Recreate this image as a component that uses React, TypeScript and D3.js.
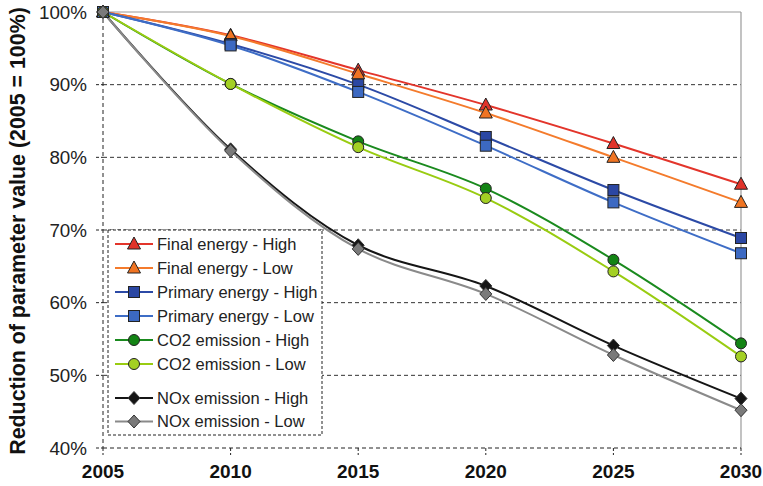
import * as d3 from 'd3';

const years = [2005, 2010, 2015, 2020, 2025, 2030];
const yTicks = [40, 50, 60, 70, 80, 90, 100];

const finalHigh = [100, 96.8, 92.0, 87.2, 81.9, 76.3];
const finalLow = [100, 96.7, 91.5, 86.1, 80.0, 73.8];
const primaryHigh = [100, 95.6, 90.0, 82.8, 75.5, 68.9];
const primaryLow = [100, 95.4, 89.0, 81.6, 73.8, 66.8];
const co2High = [100, 90.1, 82.2, 75.7, 65.9, 54.4];
const co2Low = [100, 90.1, 81.4, 74.4, 64.3, 52.6];
const noxHigh = [100, 81.1, 67.9, 62.3, 54.1, 46.8];
const noxLow = [100, 80.9, 67.4, 61.2, 52.8, 45.2];

type Marker = 'triangle' | 'square' | 'circle' | 'diamond';

interface Series {
  name: string;
  values: number[];
  line: string;
  fill: string;
  marker: Marker;
}

const series: Series[] = [
  { name: 'Final energy - High', values: finalHigh, line: '#e3352b', fill: '#e0332a', marker: 'triangle' },
  { name: 'Final energy - Low', values: finalLow, line: '#f47b2c', fill: '#f07422', marker: 'triangle' },
  { name: 'Primary energy - High', values: primaryHigh, line: '#2c4aa6', fill: '#2b47a3', marker: 'square' },
  { name: 'Primary energy - Low', values: primaryLow, line: '#3e6dc6', fill: '#3c69c2', marker: 'square' },
  { name: 'CO2 emission - High', values: co2High, line: '#1a8a1e', fill: '#138414', marker: 'circle' },
  { name: 'CO2 emission - Low', values: co2Low, line: '#99cc11', fill: '#a3d024', marker: 'circle' },
  { name: 'NOx emission - High', values: noxHigh, line: '#151515', fill: '#151515', marker: 'diamond' },
  { name: 'NOx emission - Low', values: noxLow, line: '#8a8a8a', fill: '#7a7a7a', marker: 'diamond' },
];

const W = 763;
const H = 486;
const margin = { top: 12, right: 22, bottom: 38, left: 103 };
const FONT = '"Liberation Sans", Arial, sans-serif';

const MarkerShape = ({ type, x, y, fill }: { type: Marker; x: number; y: number; fill: string }) => {
  const stroke = '#222';
  if (type === 'triangle')
    return <path d={`M${x},${y - 7}L${x + 6.5},${y + 5}L${x - 6.5},${y + 5}Z`} fill={fill} stroke={stroke} strokeWidth={1} />;
  if (type === 'square')
    return <rect x={x - 5.5} y={y - 5.5} width={11} height={11} fill={fill} stroke={stroke} strokeWidth={1} />;
  if (type === 'circle') return <circle cx={x} cy={y} r={5.5} fill={fill} stroke={stroke} strokeWidth={1} />;
  return <path d={`M${x},${y - 6.5}L${x + 6},${y}L${x},${y + 6.5}L${x - 6},${y}Z`} fill={fill} stroke="#333" strokeWidth={1} />;
};

export default function App() {
  const innerW = W - margin.left - margin.right;
  const innerH = H - margin.top - margin.bottom;
  const x = d3.scaleLinear().domain([2005, 2030]).range([margin.left, margin.left + innerW]);
  const y = d3.scaleLinear().domain([40, 100]).range([margin.top + innerH, margin.top]);

  const line = d3
    .line<number>()
    .x((_, i) => x(years[i]))
    .y((d) => y(d))
    .curve(d3.curveCatmullRom.alpha(0.5));

  const x0 = x(2005);
  const x1 = x(2030);
  const yBottom = y(40);
  const yTop = y(100);

  // legend layout
  const lgLeft = 108;
  const lgTop = 230;
  const lgRight = 322;
  const lgBottom = 435;
  const rowY = (i: number) => (i < 6 ? 244 + i * 24 : 398 + (i - 6) * 23.5);

  return (
    <svg width={W} height={H} style={{ position: 'absolute', left: 0, top: 0 }} fontFamily={FONT}>
      <rect width={W} height={H} fill="#fff" />

      {/* gridlines */}
      {yTicks.slice(1, -1).map((t) => (
        <line key={t} x1={x0} x2={x1} y1={y(t)} y2={y(t)} stroke="#333" strokeDasharray="4,3" strokeWidth={1} />
      ))}
      <line x1={x0} x2={x1} y1={yTop} y2={yTop} stroke="#9a9a9a" strokeWidth={1.2} />
      <line x1={x1} x2={x1} y1={yTop} y2={yBottom} stroke="#9a9a9a" strokeWidth={1.2} />
      <line x1={x0} x2={x1} y1={yBottom} y2={yBottom} stroke="#222" strokeDasharray="4,3" strokeWidth={1} />
      <line x1={x0} x2={x0} y1={yTop} y2={yBottom} stroke="#222" strokeDasharray="4,3" strokeWidth={1} />

      {/* y ticks */}
      {yTicks.map((t) => (
        <g key={t}>
          <line x1={x0 - 7} x2={x0} y1={y(t)} y2={y(t)} stroke="#222" strokeDasharray="3,2" />
          <text x={87} y={y(t)} dy="0.36em" textAnchor="end" fontSize={18.8} fill="#222">
            {t}%
          </text>
        </g>
      ))}

      {/* x ticks */}
      {years.map((yr) => (
        <g key={yr}>
          <line x1={x(yr)} x2={x(yr)} y1={yBottom} y2={yBottom + 7} stroke="#222" strokeDasharray="3,2" />
          <text x={x(yr)} y={478} textAnchor="middle" fontSize={19} fontWeight="bold" fill="#111">
            {yr}
          </text>
        </g>
      ))}

      <text
        transform={`translate(25,231) rotate(-90)`}
        textAnchor="middle"
        fontSize={21.4}
        fontWeight="bold"
        fill="#111"
      >
        Reduction of parameter value (2005 = 100%)
      </text>

      {/* legend */}
      <rect x={lgLeft} y={lgTop} width={lgRight - lgLeft} height={lgBottom - lgTop} fill="#fff" stroke="#222" strokeDasharray="3,2" />
      {series.map((s, i) => (
        <g key={s.name}>
          <line x1={115} x2={153} y1={rowY(i)} y2={rowY(i)} stroke={s.line} strokeWidth={2} />
          <MarkerShape type={s.marker} x={134} y={rowY(i)} fill={s.fill} />
          <text x={157} y={rowY(i)} dy="0.36em" fontSize={16.5} fill="#222">
            {s.name}
          </text>
        </g>
      ))}

      {/* series */}
      {series.map((s) => (
        <path key={s.name} d={line(s.values) ?? ''} fill="none" stroke={s.line} strokeWidth={2} />
      ))}
      {series.map((s) =>
        s.values.map((v, i) => <MarkerShape key={s.name + i} type={s.marker} x={x(years[i])} y={y(v)} fill={s.fill} />),
      )}
    </svg>
  );
}
